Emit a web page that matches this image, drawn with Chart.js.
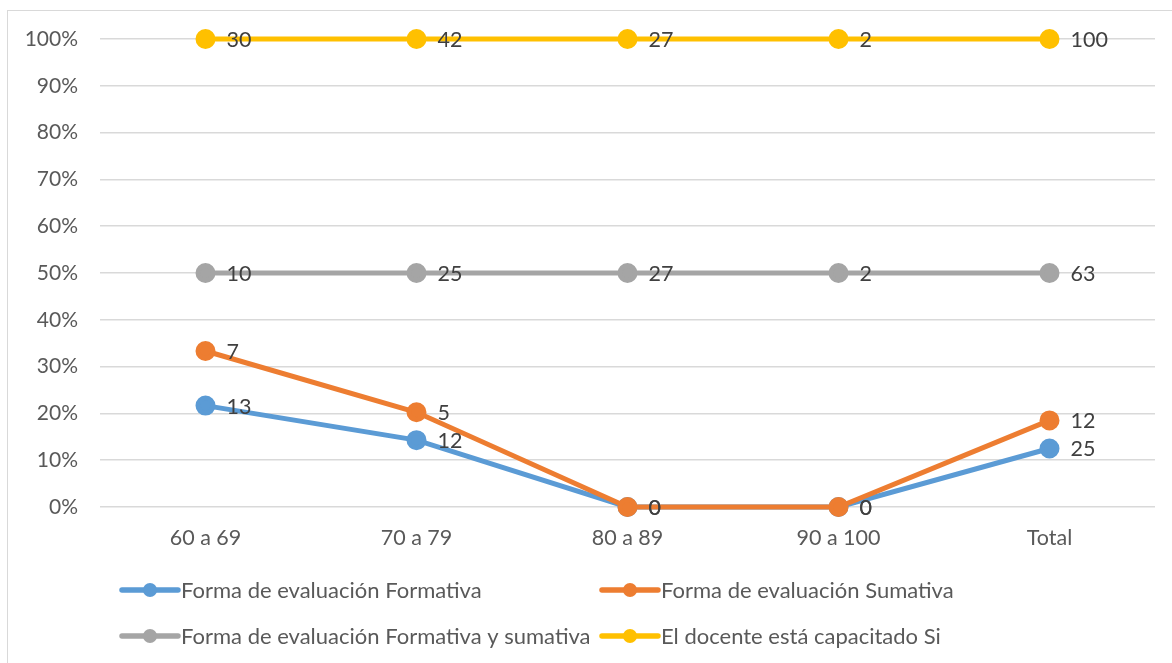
<!DOCTYPE html>
<html>
<head>
<meta charset="utf-8">
<script src="https://cdn.jsdelivr.net/npm/chart.js@4.4.1/dist/chart.umd.min.js"></script>
<style>
  html, body { margin: 0; padding: 0; background: #fff; }
  #wrap { position: relative; width: 1172px; height: 663px; overflow: hidden; }
  #frame { position: absolute; left: 7px; top: 10px; width: 1180px; height: 680px; border: 1px solid #d9d9d9; box-sizing: border-box; }
  canvas { position: absolute; left: 0; top: 0; }
</style>
</head>
<body>
<div id="wrap">
  <div id="frame"></div>
  <canvas id="c" width="1172" height="663"></canvas>
</div>
<script>
const categories = ["60 a 69", "70 a 79", "80 a 89", "90 a 100", "Total"];
const seriesNames = [
  "Forma de evaluación Formativa",
  "Forma de evaluación Sumativa",
  "Forma de evaluación Formativa y sumativa",
  "El docente está capacitado Si"
];
const formativa = [13, 12, 0, 0, 25];
const sumativa = [7, 5, 0, 0, 12];
const formativaYSumativa = [10, 25, 27, 2, 63];
const capacitadoSi = [30, 42, 27, 2, 100];
const yTicks = [0, 10, 20, 30, 40, 50, 60, 70, 80, 90, 100];
const colors = ["#5b9bd5", "#ed7d31", "#a5a5a5", "#ffc000"];

const raw = [formativa, sumativa, formativaYSumativa, capacitadoSi];
const totals = categories.map((_, j) => raw.reduce((s, r) => s + r[j], 0));
// 100% stacked line: cumulative share of each category
const cumulative = raw.map((r, i) => categories.map((_, j) => {
  let s = 0;
  for (let k = 0; k <= i; k++) s += raw[k][j];
  return totals[j] ? s / totals[j] * 100 : 0;
}));

const FONT = "Lato, 'Noto Sans', sans-serif";

const labelsPlugin = {
  id: 'valueLabels',
  afterDatasetsDraw(chart) {
    const ctx = chart.ctx;
    ctx.save();
    ctx.font = "21.5px " + FONT;
    ctx.fillStyle = "#404040";
    ctx.textBaseline = "middle";
    ctx.textAlign = "left";
    chart.data.datasets.forEach((ds, i) => {
      const meta = chart.getDatasetMeta(i);
      meta.data.forEach((pt, j) => {
        ctx.fillText(String(raw[i][j]), pt.x + 21, pt.y + 1);
      });
    });
    ctx.restore();
  }
};

const legendPlugin = {
  id: 'customLegend',
  afterDraw(chart) {
    const ctx = chart.ctx;
    const cols = [120, 600];
    const rows = [590, 636];
    ctx.save();
    ctx.font = "22px " + FONT;
    ctx.textBaseline = "middle";
    ctx.textAlign = "left";
    chart.data.datasets.forEach((ds, i) => {
      const x = cols[i % 2], y = rows[Math.floor(i / 2)];
      ctx.strokeStyle = ds.borderColor;
      ctx.lineWidth = 5.5;
      ctx.lineCap = "round";
      ctx.beginPath(); ctx.moveTo(x + 2, y); ctx.lineTo(x + 58, y); ctx.stroke();
      ctx.fillStyle = ds.borderColor;
      ctx.beginPath(); ctx.arc(x + 30, y, 7, 0, Math.PI * 2); ctx.fill();
      ctx.fillStyle = "#595959";
      ctx.fillText(ds.label, x + 61, y + 1);
    });
    ctx.restore();
  }
};

new Chart(document.getElementById('c'), {
  type: 'line',
  data: {
    labels: categories,
    datasets: seriesNames.map((name, i) => ({
      label: name,
      data: cumulative[i],
      borderColor: colors[i],
      backgroundColor: colors[i],
      pointBackgroundColor: colors[i],
      pointBorderColor: colors[i],
      borderWidth: 5,
      pointRadius: 7.5,
      pointHoverRadius: 7.5,
      fill: false,
      tension: 0,
      clip: false,
      order: seriesNames.length - i
    }))
  },
  options: {
    responsive: false,
    animation: false,
    devicePixelRatio: 1,
    layout: { padding: { left: 0, right: 17, top: 39, bottom: 0 } },
    plugins: { legend: { display: false }, tooltip: { enabled: false } },
    scales: {
      x: {
        offset: true,
        grid: { display: false, drawTicks: false },
        border: { display: false },
        ticks: { color: "#595959", font: { size: 21.5, family: FONT }, padding: 18 },
        afterFit(s) { s.height = 156; }
      },
      y: {
        min: 0, max: 100,
        afterBuildTicks(s) { s.ticks = yTicks.map(v => ({ value: v })); },
        grid: { color: "#d9d9d9", lineWidth: 1.5, drawTicks: false },
        border: { display: false },
        ticks: { color: "#595959", font: { size: 21, family: FONT }, padding: 22, callback: v => v + "%" },
        afterFit(s) { s.width = 100; }
      }
    }
  },
  plugins: [labelsPlugin, legendPlugin]
});
</script>
</body>
</html>
